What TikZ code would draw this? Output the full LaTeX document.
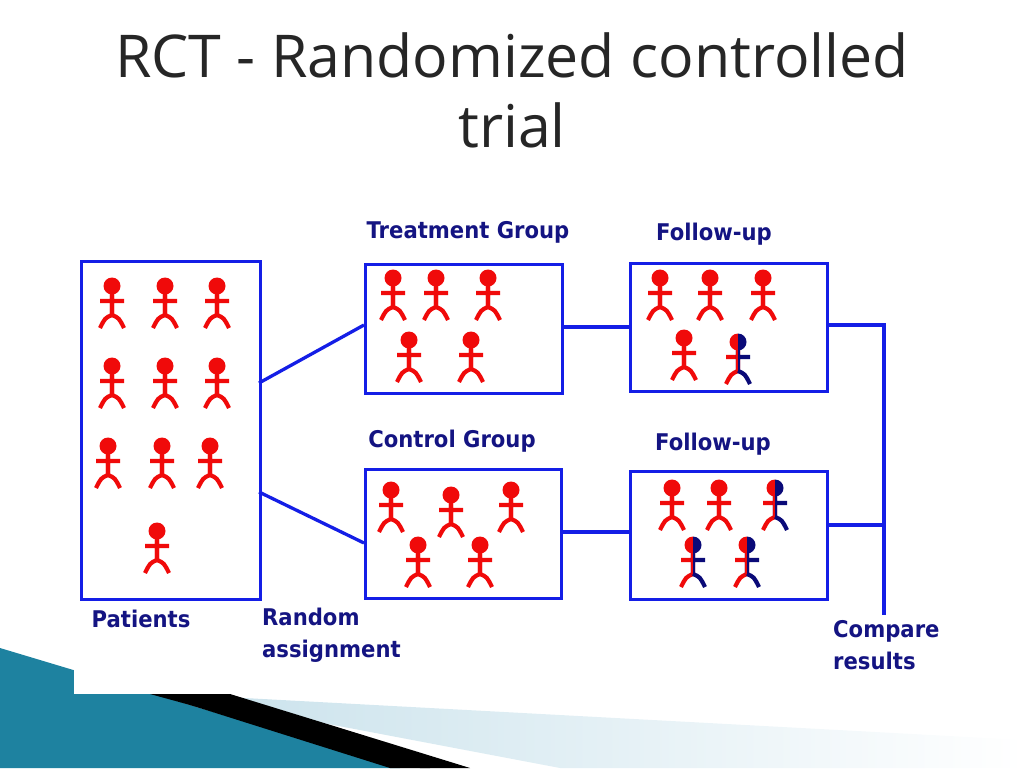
\documentclass[tikz,border=0pt]{standalone}
\usepackage{fontspec}
\setmainfont{Open Sans}
\newfontfamily\lab{DejaVu Sans}[FakeStretch=0.92]
\definecolor{navy}{RGB}{20,20,130}
\definecolor{bx}{RGB}{20,30,230}
\definecolor{teal}{RGB}{30,130,160}
\definecolor{ltb}{RGB}{200,225,235}
\definecolor{mred}{RGB}{240,10,10}
\definecolor{mblue}{RGB}{10,10,120}
\tikzset{
  grp/.style={draw=bx,line width=3.3pt},
  conn/.style={draw=bx,line width=3.3pt},
  lbl/.style={font=\lab\bfseries\fontsize{23}{32}\selectfont,text=navy,inner sep=0pt},
  pics/man/.style 2 args={code={
    \fill[#1] (0,-17) ++(0,-8.5) arc[start angle=-90,end angle=-270,radius=8.5] -- cycle;
    \fill[#2] (0,-17) ++(0,8.5) arc[start angle=90,end angle=-90,radius=8.5] -- cycle;
    \draw[#1,line width=4.2pt] (0,-9)--(0,12) (-12,-2)--(0,-2) (0,12) .. controls (-7,15) .. (-12,25);
    \draw[#2,line width=4.2pt] (0,-9)--(0,12) (0,-2)--(12,-2) (0,12) .. controls (7,15) .. (12,25);
    \draw[#1,line width=2.1pt] (-1,-9)--(-1,12);
  }}
}
\begin{document}
\begin{tikzpicture}[x=1pt,y=-1pt]
\useasboundingbox (0,0) rectangle (1024,768);
% decoration
\fill[teal] (0,648)--(140,690)--(400,768)--(0,768)--cycle;
\shade[left color=ltb,right color=white] (170,694)--(1024,740)--(1024,768)--(560,768)--cycle;
\fill[black] (130,686)--(430,768)--(390,768)--cycle;
\fill[black] (150,694)--(230,694)--(470,768)--(420,768)--cycle;
\fill[white] (74,600) rectangle (1024,694);
% title
\node[font=\fontsize{59}{70}\selectfont,text=black!85,align=center] (title) at (512,90) {RCT - Randomized controlled\\trial};
% boxes
\node[grp,minimum width=179,minimum height=338,anchor=north west] (pat) at (80,260) {};
\node[grp,minimum width=197,minimum height=129,anchor=north west] (trt) at (364,263) {};
\node[grp,minimum width=197,minimum height=128,anchor=north west] (fu1) at (629,262) {};
\node[grp,minimum width=196,minimum height=129,anchor=north west] (ctl) at (364,468) {};
\node[grp,minimum width=197,minimum height=128,anchor=north west] (fu2) at (629,470) {};
% people
\foreach \p in {(112,303),(165,303),(217,303),(112,383),(165,383),(217,383),(108,463),(162,463),(210,463),(157,548),
 (393,295),(436,295),(488,295),(409,357),(471,357),
 (660,295),(710,295),(763,295),(684,355),
 (391,507),(451,512),(511,507),(418,562),(480,562),
 (672,505),(719,505)}
  \pic at \p {man={mred}{mred}};
\foreach \p in {(738,359),(775,505),(693,562),(747,562)}
  \pic at \p {man={mred}{mblue}};
% connectors
\coordinate (a1) at (259,383); \coordinate (a2) at (364,325);
\coordinate (b1) at (259,492); \coordinate (b2) at (364,543);
\draw[conn] (a1)--(a2) (b1)--(b2);
\draw[conn] (trt.east |- 0,327)--(fu1.west |- 0,327);
\draw[conn] (ctl.east |- 0,532)--(fu2.west |- 0,532);
\coordinate (c1) at (884,325); \coordinate (c2) at (884,525); \coordinate (c3) at (884,615);
\draw[conn] (fu1.east |- c1)--(c1)--(c3);
\draw[conn] (fu2.east |- c2)--(c2);
% labels
\node[lbl] (l1) at (468,232) {Treatment Group};
\node[lbl] (l2) at (714,234) {Follow-up};
\node[lbl] (l3) at (452,441) {Control Group};
\node[lbl] (l4) at (713,444) {Follow-up};
\node[lbl] (l5) at (141,619) {Patients};
\node[lbl,anchor=north west,align=left] (l6) at (262,608) {Random\\assignment};
\node[lbl,anchor=north west,align=left] (l7) at (833,620) {Compare\\results};
\end{tikzpicture}
\end{document}
